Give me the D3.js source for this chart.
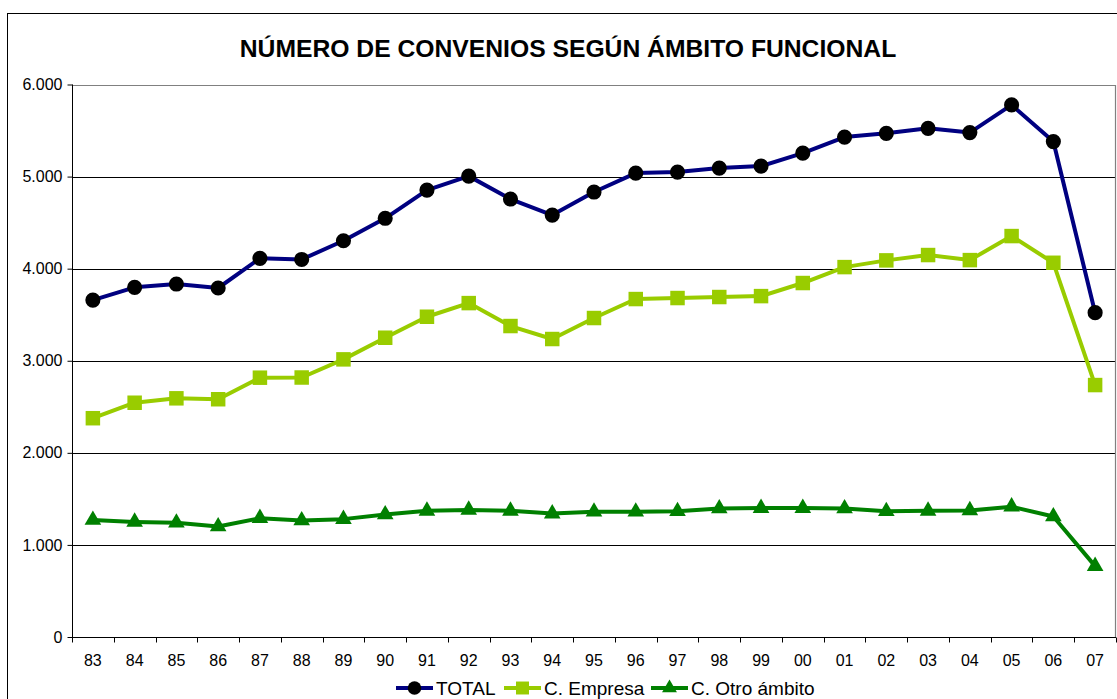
<!DOCTYPE html>
<html>
<head>
<meta charset="utf-8">
<script src="https://cdn.jsdelivr.net/npm/d3@7"></script>
<style>
  html, body { margin: 0; padding: 0; background: #fff; }
  svg { display: block; font-family: "Liberation Sans", Arial, sans-serif; }
</style>
</head>
<body>
<div id="chart"></div>
<script>
const years = ['83','84','85','86','87','88','89','90','91','92','93','94','95','96','97','98','99','00','01','02','03','04','05','06','07'];
const total = [3659,3797,3833,3790,4112,4100,4303,4547,4853,5005,4756,4582,4832,5038,5049,5092,5114,5255,5429,5470,5524,5478,5778,5380,3522];
const empresa = [2376,2544,2592,2582,2816,2818,3015,3250,3478,3626,3377,3236,3464,3670,3681,3692,3702,3844,4017,4090,4148,4093,4354,4064,2736];
const otro = [1270,1250,1240,1200,1290,1265,1280,1330,1370,1380,1370,1340,1360,1360,1365,1395,1400,1400,1395,1365,1370,1375,1415,1308,770];
const yTicks = [0,1000,2000,3000,4000,5000,6000];

const W = 1117, H = 699;
const plot = { left: 72, top: 84.5, right: 1116, bottom: 637 };

const svg = d3.select('#chart').append('svg')
  .attr('width', W).attr('height', H);

// outer chart frame
svg.append('rect')
  .attr('x', 7.5).attr('y', 13.5).attr('width', 1300).attr('height', 800)
  .attr('fill', 'none').attr('stroke', '#000').attr('stroke-width', 1);

svg.append('text')
  .attr('x', 568).attr('y', 57)
  .attr('text-anchor', 'middle')
  .style('font-size', '24.7px').style('font-weight', 'bold')
  .text('NÚMERO DE CONVENIOS SEGÚN ÁMBITO FUNCIONAL');

const x = d3.scaleBand().domain(years).range([plot.left, plot.right]);
const y = d3.scaleLinear().domain([0, 6000]).range([plot.bottom, plot.top]);

// gridlines
svg.append('g').selectAll('line')
  .data(yTicks.filter(t => t > 0 && t < 6000))
  .join('line')
  .attr('x1', plot.left).attr('x2', plot.right)
  .attr('y1', d => Math.round(y(d)) + 0.5).attr('y2', d => Math.round(y(d)) + 0.5)
  .attr('stroke', '#000').attr('stroke-width', 1);

// plot border top/right (gray)
svg.append('path')
  .attr('d', `M${plot.left},${Math.round(plot.top) + 0.5}H${plot.right - 0.5}V${plot.bottom}`)
  .attr('fill', 'none').attr('stroke', '#808080').attr('stroke-width', 1.2);

// y axis
const yAxis = d3.axisLeft(y).tickValues(yTicks).tickSize(5).tickPadding(5)
  .tickFormat(d => d3.format(',')(d).replace(/,/g, '.'));
const gy = svg.append('g').attr('transform', `translate(${plot.left + 0.5},0)`).call(yAxis);
gy.selectAll('text').style('font-size', '16px').attr('fill', '#000');
gy.select('.domain').attr('d', `M0,${plot.top}V${plot.bottom}`);

// x axis with ticks between categories
const gx = svg.append('g').attr('transform', `translate(0,${Math.round(plot.bottom) + 0.5})`);
gx.append('line').attr('x1', plot.left).attr('x2', plot.right).attr('stroke', '#000');
const bounds = years.map(d => x(d)).concat([plot.right]);
gx.selectAll('line.tk').data(bounds).join('line').attr('class', 'tk')
  .attr('x1', d => Math.round(d) + 0.5).attr('x2', d => Math.round(d) + 0.5)
  .attr('y1', 0).attr('y2', 5).attr('stroke', '#000');
gx.selectAll('text').data(years).join('text')
  .attr('x', d => x(d) + x.bandwidth() / 2).attr('y', 28.5)
  .attr('text-anchor', 'middle').style('font-size', '16px')
  .text(d => d);

const series = [
  { name: 'TOTAL', values: total, color: '#000080', symbol: d3.symbolCircle, size: 180, fill: '#000' },
  { name: 'C. Empresa', values: empresa, color: '#99CC00', symbol: d3.symbolSquare, size: 210, fill: '#99CC00' },
  { name: 'C. Otro ámbito', values: otro, color: '#008000', symbol: d3.symbolTriangle, size: 120, fill: '#008000' }
];

const line = d3.line()
  .x((d, i) => x(years[i]) + x.bandwidth() / 2)
  .y(d => y(d));

series.forEach(s => {
  svg.append('path').datum(s.values)
    .attr('d', line).attr('fill', 'none')
    .attr('stroke', s.color).attr('stroke-width', 4)
    .attr('stroke-linejoin', 'round');
  svg.append('g').selectAll('path').data(s.values).join('path')
    .attr('transform', (d, i) => `translate(${x(years[i]) + x.bandwidth() / 2},${y(d)})`)
    .attr('d', d3.symbol().type(s.symbol).size(s.size))
    .attr('fill', s.fill);
});

// legend
const legendItems = [
  { s: series[0], x0: 396 },
  { s: series[1], x0: 504 },
  { s: series[2], x0: 651 }
];
const ly = 688;
legendItems.forEach(it => {
  const g = svg.append('g');
  g.append('line').attr('x1', it.x0).attr('x2', it.x0 + 37).attr('y1', ly).attr('y2', ly)
    .attr('stroke', it.s.color).attr('stroke-width', 4);
  g.append('path').attr('transform', `translate(${it.x0 + 18.5},${ly})`)
    .attr('d', d3.symbol().type(it.s.symbol).size(it.s.size * 0.8))
    .attr('fill', it.s.fill);
  g.append('text').attr('x', it.x0 + 40).attr('y', ly + 7)
    .style('font-size', '19px').text(it.s.name);
});
</script>
</body>
</html>
